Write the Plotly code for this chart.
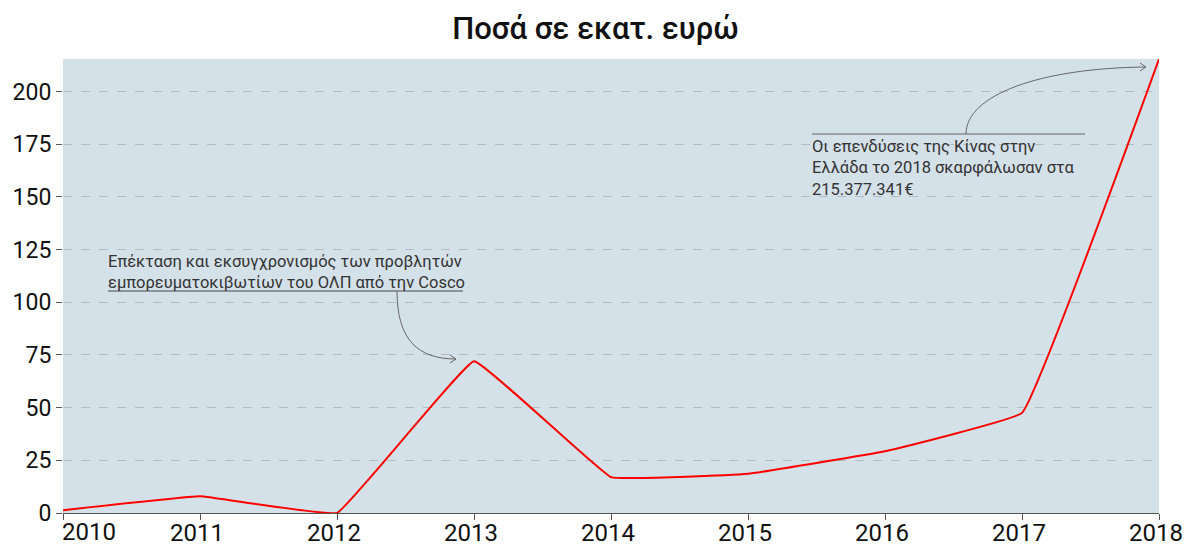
import plotly.graph_objects as go

years = [2010, 2011, 2012, 2013, 2014, 2015, 2016, 2017, 2018]
amounts = [1.3, 7.9, 0.0, 72.0, 17.0, 18.6, 29.3, 47.5, 215.377341]
y_ticks = [0, 25, 50, 75, 100, 125, 150, 175, 200]
x_tick_labels = [str(y) for y in years]

title_text = "Ποσά σε εκατ. ευρώ"
note1 = "Επέκταση και εκσυγχρονισμός των προβλητών<br>εμπορευματοκιβωτίων του ΟΛΠ από την Cosco"
note2 = "Οι επενδύσεις της Κίνας στην<br>Ελλάδα το 2018 σκαρφάλωσαν στα<br>215.377.341€"

W, H = 1191, 548
ML, MR, MT, MB = 63, 32, 59, 35
PW, PH = W - ML - MR, H - MT - MB


def px(x):
    return (x - ML) / PW


def py(y):
    return (H - MB - y) / PH


fig = go.Figure()
fig.add_trace(go.Scatter(
    x=years, y=amounts, mode="lines",
    line=dict(color="#ff0000", width=2, shape="spline", smoothing=0.2),
    hoverinfo="skip", cliponaxis=True,
))

ann_color = "#333333"
arrow_color = "#666666"

shapes = []
# underline of note 1
shapes.append(dict(type="line", xref="paper", yref="paper",
                   x0=px(108), x1=px(463), y0=py(291), y1=py(291),
                   line=dict(color="#444444", width=1)))
# curved arrow 1
p = (f"M {px(397)},{py(291)} C {px(397)},{py(340)} {px(418)},{py(359)} {px(456)},{py(359)}")
shapes.append(dict(type="path", xref="paper", yref="paper", path=p,
                   line=dict(color=arrow_color, width=1)))
p = f"M {px(450)},{py(355)} L {px(456)},{py(359)} L {px(450)},{py(363)}"
shapes.append(dict(type="path", xref="paper", yref="paper", path=p,
                   line=dict(color=arrow_color, width=1)))
# horizontal line of note 2
shapes.append(dict(type="line", xref="paper", yref="paper",
                   x0=px(812), x1=px(1085), y0=py(134), y1=py(134),
                   line=dict(color="#666666", width=1.2)))
# curved arrow 2
p = (f"M {px(966)},{py(134)} C {px(966)},{py(95)} {px(1040)},{py(68)} {px(1146)},{py(67)}")
shapes.append(dict(type="path", xref="paper", yref="paper", path=p,
                   line=dict(color=arrow_color, width=1)))
p = f"M {px(1140)},{py(63)} L {px(1146)},{py(67)} L {px(1140)},{py(71)}"
shapes.append(dict(type="path", xref="paper", yref="paper", path=p,
                   line=dict(color=arrow_color, width=1)))

tick_font = dict(family="Roboto", size=24, color="#111111")

annotations = [
    dict(text=note1, xref="paper", yref="paper", x=px(106), y=py(272),
         xanchor="left", yanchor="middle", align="left", showarrow=False,
         font=dict(family="Roboto", size=16.5, color=ann_color)),
    dict(text=note2, xref="paper", yref="paper", x=px(810), y=py(168),
         xanchor="left", yanchor="middle", align="left", showarrow=False,
         font=dict(family="Roboto", size=16.5, color=ann_color)),
    # first x tick label, kept inside the plot's left edge as in the reference
    dict(text=x_tick_labels[0], xref="x", yref="paper", x=years[0], y=0,
         xanchor="left", yanchor="middle", xshift=-3, yshift=-19,
         showarrow=False, font=tick_font),
]

fig.update_layout(
    width=W, height=H,
    margin=dict(l=ML, r=MR, t=MT, b=MB, pad=0, autoexpand=False),
    paper_bgcolor="white",
    plot_bgcolor="#d5e1e9",
    showlegend=False,
    title=dict(text=title_text, x=0.5, xanchor="center", y=1 - 28 / H, yanchor="middle",
               font=dict(family="Roboto", size=31, color="#111111", weight=500)),
    font=dict(family="Roboto", color="#111111"),
    shapes=shapes,
    annotations=annotations,
    xaxis=dict(
        range=[2010, 2018], tickmode="array", tickvals=years,
        ticktext=[""] + x_tick_labels[1:],
        showgrid=False, zeroline=False, automargin=False,
        showline=True, linecolor="#555555", linewidth=1,
        ticks="outside", ticklen=6, tickcolor="#555555",
        ticklabelshift=-3, ticklabelstandoff=-8,
        tickfont=tick_font,
        fixedrange=True,
    ),
    yaxis=dict(
        range=[0, 215.4], tickmode="array", tickvals=y_ticks,
        showgrid=True, gridcolor="#b3bcc3", griddash="dash", gridwidth=1,
        zeroline=False, showline=False, automargin=False,
        ticks="outside", ticklen=6, tickcolor="#555555",
        tickfont=dict(family="Roboto", size=23, color="#111111"),
        fixedrange=True,
    ),
)

fig.write_html(
    "out.html",
    config={"displayModeBar": False, "staticPlot": True},
    post_script="document.body.style.margin='0';document.body.style.overflow='hidden';",
)
